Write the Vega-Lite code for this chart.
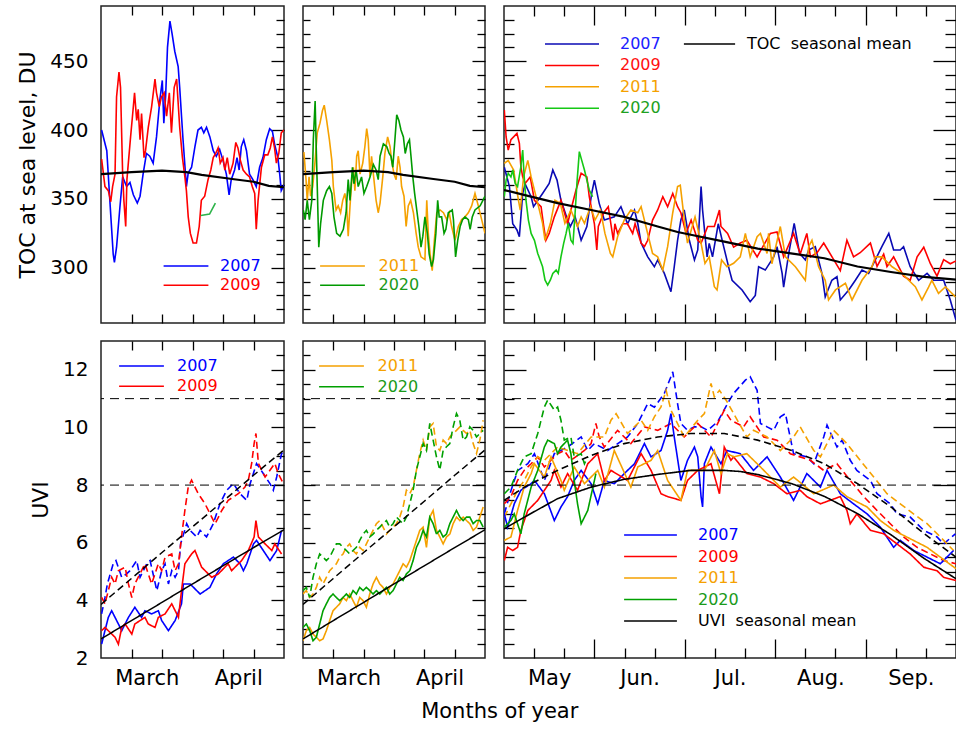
{
"$schema":"https://vega.github.io/schema/vega-lite/v6.json",
"padding":{"left":16,"top":4,"right":0,"bottom":4},
"title":{"text":"Months of year","orient":"bottom","anchor":"middle","dx":13,"offset":12,"fontSize":21,"font":"DejaVu Sans","fontWeight":"normal","color":"#000"},
"config":{
 "view":{"stroke":"#222","strokeWidth":1.5},
 "font":"DejaVu Sans",
 "axis":{"domain":false,"grid":false,"labelFont":"DejaVu Sans","labelFontSize":20,"labelColor":"#000","tickColor":"#000","tickWidth":1.3,"titleFont":"DejaVu Sans","titleFontSize":22,"titleFontWeight":"normal","titleColor":"#000","labelOverlap":false,"labelFlush":false,"labelBound":false},
 "legend":{"orient":"none","title":null,"labelFont":"DejaVu Sans","labelFontSize":16,"symbolStrokeWidth":2,"padding":0,"symbolSize":256,"labelLimit":400},
 "line":{"strokeWidth":1.5}
},
"datasets":{
"tA":[
{"yr":"2007","d":0.2,"v":400},{"yr":"2007","d":1.9,"v":385},{"yr":"2007","d":2.9,"v":349},{"yr":"2007","d":4.0,"v":310},{"yr":"2007","d":4.4,"v":304},{"yr":"2007","d":5.1,"v":315},{"yr":"2007","d":6.2,"v":344},{"yr":"2007","d":7.1,"v":366},{"yr":"2007","d":8.4,"v":359},{"yr":"2007","d":9.5,"v":362},{"yr":"2007","d":10.6,"v":353},{"yr":"2007","d":11.9,"v":347},{"yr":"2007","d":12.8,"v":352},{"yr":"2007","d":13.8,"v":368},{"yr":"2007","d":14.9,"v":383},{"yr":"2007","d":16.0,"v":381},{"yr":"2007","d":17.1,"v":376},{"yr":"2007","d":18.2,"v":395},{"yr":"2007","d":19.3,"v":422},{"yr":"2007","d":20.1,"v":436},{"yr":"2007","d":20.6,"v":405},{"yr":"2007","d":21.2,"v":425},{"yr":"2007","d":21.8,"v":460},{"yr":"2007","d":22.6,"v":479},{"yr":"2007","d":23.3,"v":470},{"yr":"2007","d":24.2,"v":457},{"yr":"2007","d":25.3,"v":446},{"yr":"2007","d":25.8,"v":431},{"yr":"2007","d":26.4,"v":410},{"yr":"2007","d":26.9,"v":393},{"yr":"2007","d":28.0,"v":359},{"yr":"2007","d":28.6,"v":369},{"yr":"2007","d":29.7,"v":373},{"yr":"2007","d":30.8,"v":388},{"yr":"2007","d":31.8,"v":400},{"yr":"2007","d":32.9,"v":402},{"yr":"2007","d":33.7,"v":398},{"yr":"2007","d":34.6,"v":402},{"yr":"2007","d":35.7,"v":395},{"yr":"2007","d":36.8,"v":385},{"yr":"2007","d":37.8,"v":381},{"yr":"2007","d":38.9,"v":386},{"yr":"2007","d":40.0,"v":378},{"yr":"2007","d":41.1,"v":368},{"yr":"2007","d":42.0,"v":353},{"yr":"2007","d":42.7,"v":364},{"yr":"2007","d":43.8,"v":371},{"yr":"2007","d":44.6,"v":380},{"yr":"2007","d":45.3,"v":371},{"yr":"2007","d":46.0,"v":388},{"yr":"2007","d":46.8,"v":393},{"yr":"2007","d":47.7,"v":385},{"yr":"2007","d":48.7,"v":368},{"yr":"2007","d":49.8,"v":364},{"yr":"2007","d":50.9,"v":359},{"yr":"2007","d":52.0,"v":373},{"yr":"2007","d":53.1,"v":380},{"yr":"2007","d":54.2,"v":393},{"yr":"2007","d":55.3,"v":401},{"yr":"2007","d":56.2,"v":399},{"yr":"2007","d":56.9,"v":390},{"yr":"2007","d":58.0,"v":380},{"yr":"2007","d":58.6,"v":368},{"yr":"2007","d":59.1,"v":356},{"yr":"2007","d":60,"v":360},
{"yr":"2009","d":0.2,"v":379},{"yr":"2009","d":1.3,"v":359},{"yr":"2009","d":2.4,"v":356},{"yr":"2009","d":3.2,"v":348},{"yr":"2009","d":3.8,"v":359},{"yr":"2009","d":4.6,"v":368},{"yr":"2009","d":5.1,"v":424},{"yr":"2009","d":5.9,"v":442},{"yr":"2009","d":6.4,"v":431},{"yr":"2009","d":7.1,"v":368},{"yr":"2009","d":7.5,"v":349},{"yr":"2009","d":8.1,"v":330},{"yr":"2009","d":8.5,"v":364},{"yr":"2009","d":9.7,"v":395},{"yr":"2009","d":10.4,"v":412},{"yr":"2009","d":11.0,"v":427},{"yr":"2009","d":11.7,"v":407},{"yr":"2009","d":12.2,"v":415},{"yr":"2009","d":12.8,"v":393},{"yr":"2009","d":13.3,"v":412},{"yr":"2009","d":14.1,"v":380},{"yr":"2009","d":14.6,"v":385},{"yr":"2009","d":15.5,"v":402},{"yr":"2009","d":16.6,"v":417},{"yr":"2009","d":17.7,"v":437},{"yr":"2009","d":18.2,"v":427},{"yr":"2009","d":19.1,"v":417},{"yr":"2009","d":19.8,"v":424},{"yr":"2009","d":20.7,"v":427},{"yr":"2009","d":21.5,"v":410},{"yr":"2009","d":22.4,"v":427},{"yr":"2009","d":23.1,"v":398},{"yr":"2009","d":24.0,"v":431},{"yr":"2009","d":24.8,"v":437},{"yr":"2009","d":25.8,"v":402},{"yr":"2009","d":26.7,"v":380},{"yr":"2009","d":27.5,"v":366},{"yr":"2009","d":28.0,"v":356},{"yr":"2009","d":28.6,"v":337},{"yr":"2009","d":29.3,"v":325},{"yr":"2009","d":30.2,"v":318},{"yr":"2009","d":31.3,"v":318},{"yr":"2009","d":32.2,"v":330},{"yr":"2009","d":32.9,"v":349},{"yr":"2009","d":34.0,"v":352},{"yr":"2009","d":35.1,"v":364},{"yr":"2009","d":36.0,"v":371},{"yr":"2009","d":36.8,"v":380},{"yr":"2009","d":37.6,"v":383},{"yr":"2009","d":38.4,"v":387},{"yr":"2009","d":39.1,"v":376},{"yr":"2009","d":40.0,"v":380},{"yr":"2009","d":40.6,"v":371},{"yr":"2009","d":41.4,"v":380},{"yr":"2009","d":42.2,"v":368},{"yr":"2009","d":43.3,"v":376},{"yr":"2009","d":44.2,"v":391},{"yr":"2009","d":44.9,"v":387},{"yr":"2009","d":45.7,"v":378},{"yr":"2009","d":46.6,"v":371},{"yr":"2009","d":47.7,"v":368},{"yr":"2009","d":48.7,"v":366},{"yr":"2009","d":49.6,"v":359},{"yr":"2009","d":50.4,"v":354},{"yr":"2009","d":50.9,"v":328},{"yr":"2009","d":51.5,"v":349},{"yr":"2009","d":52.6,"v":373},{"yr":"2009","d":53.7,"v":382},{"yr":"2009","d":54.7,"v":382},{"yr":"2009","d":55.5,"v":387},{"yr":"2009","d":56.2,"v":395},{"yr":"2009","d":56.9,"v":387},{"yr":"2009","d":57.5,"v":376},{"yr":"2009","d":58.3,"v":383},{"yr":"2009","d":59.1,"v":398},{"yr":"2009","d":60,"v":400},
{"yr":"2020","d":32.7,"v":338},{"yr":"2020","d":35.6,"v":339},{"yr":"2020","d":37.5,"v":347}
],
"tB":[
{"yr":"2011","d":0.3,"v":384},{"yr":"2011","d":1.0,"v":364},{"yr":"2011","d":1.4,"v":349},{"yr":"2011","d":2.0,"v":366},{"yr":"2011","d":2.5,"v":352},{"yr":"2011","d":3.2,"v":359},{"yr":"2011","d":4.0,"v":378},{"yr":"2011","d":4.7,"v":398},{"yr":"2011","d":5.6,"v":405},{"yr":"2011","d":6.4,"v":414},{"yr":"2011","d":7.0,"v":418},{"yr":"2011","d":7.8,"v":407},{"yr":"2011","d":8.7,"v":393},{"yr":"2011","d":9.5,"v":378},{"yr":"2011","d":10.0,"v":359},{"yr":"2011","d":10.9,"v":342},{"yr":"2011","d":11.6,"v":345},{"yr":"2011","d":12.4,"v":340},{"yr":"2011","d":13.1,"v":349},{"yr":"2011","d":13.8,"v":354},{"yr":"2011","d":14.4,"v":345},{"yr":"2011","d":14.9,"v":323},{"yr":"2011","d":15.5,"v":345},{"yr":"2011","d":16.0,"v":361},{"yr":"2011","d":16.6,"v":373},{"yr":"2011","d":17.1,"v":356},{"yr":"2011","d":17.7,"v":381},{"yr":"2011","d":18.2,"v":385},{"yr":"2011","d":18.8,"v":368},{"yr":"2011","d":19.7,"v":376},{"yr":"2011","d":20.4,"v":388},{"yr":"2011","d":21.0,"v":401},{"yr":"2011","d":21.5,"v":393},{"yr":"2011","d":22.1,"v":366},{"yr":"2011","d":22.6,"v":381},{"yr":"2011","d":23.2,"v":368},{"yr":"2011","d":24.1,"v":349},{"yr":"2011","d":24.8,"v":340},{"yr":"2011","d":25.4,"v":347},{"yr":"2011","d":26.3,"v":366},{"yr":"2011","d":27.0,"v":383},{"yr":"2011","d":27.9,"v":395},{"yr":"2011","d":28.7,"v":388},{"yr":"2011","d":29.2,"v":378},{"yr":"2011","d":30.0,"v":368},{"yr":"2011","d":30.7,"v":364},{"yr":"2011","d":31.4,"v":381},{"yr":"2011","d":32.0,"v":373},{"yr":"2011","d":32.5,"v":359},{"yr":"2011","d":33.3,"v":352},{"yr":"2011","d":34.0,"v":330},{"yr":"2011","d":34.7,"v":345},{"yr":"2011","d":35.5,"v":349},{"yr":"2011","d":36.4,"v":340},{"yr":"2011","d":37.3,"v":325},{"yr":"2011","d":38.0,"v":315},{"yr":"2011","d":38.9,"v":308},{"yr":"2011","d":40.2,"v":306},{"yr":"2011","d":40.8,"v":349},{"yr":"2011","d":41.3,"v":325},{"yr":"2011","d":41.9,"v":310},{"yr":"2011","d":42.6,"v":298},{"yr":"2011","d":43.3,"v":320},{"yr":"2011","d":44.1,"v":340},{"yr":"2011","d":45.2,"v":342},{"yr":"2011","d":46.3,"v":340},{"yr":"2011","d":47.4,"v":335},{"yr":"2011","d":48.2,"v":340},{"yr":"2011","d":49.0,"v":330},{"yr":"2011","d":50.1,"v":320},{"yr":"2011","d":51.2,"v":330},{"yr":"2011","d":52.3,"v":335},{"yr":"2011","d":53.4,"v":337},{"yr":"2011","d":54.5,"v":340},{"yr":"2011","d":55.6,"v":345},{"yr":"2011","d":56.7,"v":354},{"yr":"2011","d":57.8,"v":345},{"yr":"2011","d":58.9,"v":335},{"yr":"2011","d":60,"v":325},
{"yr":"2020","d":0.1,"v":342},{"yr":"2020","d":0.7,"v":335},{"yr":"2020","d":1.4,"v":349},{"yr":"2020","d":2.1,"v":335},{"yr":"2020","d":2.9,"v":349},{"yr":"2020","d":3.4,"v":393},{"yr":"2020","d":4.0,"v":421},{"yr":"2020","d":4.3,"v":393},{"yr":"2020","d":4.7,"v":359},{"yr":"2020","d":5.2,"v":315},{"yr":"2020","d":5.8,"v":332},{"yr":"2020","d":6.7,"v":349},{"yr":"2020","d":7.8,"v":356},{"yr":"2020","d":8.7,"v":359},{"yr":"2020","d":9.5,"v":354},{"yr":"2020","d":10.2,"v":337},{"yr":"2020","d":11.1,"v":325},{"yr":"2020","d":12.2,"v":323},{"yr":"2020","d":13.3,"v":328},{"yr":"2020","d":14.2,"v":340},{"yr":"2020","d":14.9,"v":364},{"yr":"2020","d":15.5,"v":349},{"yr":"2020","d":16.3,"v":373},{"yr":"2020","d":16.8,"v":361},{"yr":"2020","d":17.5,"v":371},{"yr":"2020","d":18.2,"v":359},{"yr":"2020","d":19.3,"v":366},{"yr":"2020","d":20.1,"v":354},{"yr":"2020","d":21.0,"v":359},{"yr":"2020","d":22.1,"v":366},{"yr":"2020","d":23.2,"v":375},{"yr":"2020","d":24.1,"v":371},{"yr":"2020","d":24.8,"v":364},{"yr":"2020","d":25.4,"v":381},{"yr":"2020","d":26.5,"v":390},{"yr":"2020","d":27.6,"v":388},{"yr":"2020","d":28.4,"v":383},{"yr":"2020","d":29.0,"v":381},{"yr":"2020","d":29.6,"v":373},{"yr":"2020","d":30.3,"v":393},{"yr":"2020","d":30.9,"v":411},{"yr":"2020","d":31.6,"v":407},{"yr":"2020","d":32.3,"v":400},{"yr":"2020","d":33.1,"v":395},{"yr":"2020","d":33.7,"v":383},{"yr":"2020","d":34.4,"v":390},{"yr":"2020","d":35.1,"v":393},{"yr":"2020","d":35.6,"v":381},{"yr":"2020","d":36.2,"v":366},{"yr":"2020","d":36.8,"v":354},{"yr":"2020","d":37.5,"v":342},{"yr":"2020","d":38.2,"v":330},{"yr":"2020","d":38.9,"v":315},{"yr":"2020","d":39.5,"v":323},{"yr":"2020","d":40.2,"v":337},{"yr":"2020","d":41.0,"v":325},{"yr":"2020","d":41.6,"v":310},{"yr":"2020","d":42.4,"v":301},{"yr":"2020","d":43.0,"v":306},{"yr":"2020","d":43.8,"v":325},{"yr":"2020","d":44.4,"v":349},{"yr":"2020","d":44.9,"v":337},{"yr":"2020","d":45.7,"v":337},{"yr":"2020","d":46.5,"v":325},{"yr":"2020","d":47.1,"v":328},{"yr":"2020","d":47.9,"v":340},{"yr":"2020","d":49.2,"v":342},{"yr":"2020","d":49.6,"v":335},{"yr":"2020","d":50.3,"v":308},{"yr":"2020","d":51.0,"v":320},{"yr":"2020","d":51.8,"v":330},{"yr":"2020","d":52.6,"v":335},{"yr":"2020","d":53.4,"v":337},{"yr":"2020","d":54.5,"v":335},{"yr":"2020","d":55.1,"v":328},{"yr":"2020","d":55.8,"v":337},{"yr":"2020","d":56.7,"v":342},{"yr":"2020","d":58.4,"v":345},{"yr":"2020","d":60,"v":352}
],
"mT":[{"d":0,"v":368},{"d":10,"v":369.5},{"d":20,"v":370.5},{"d":28,"v":369.5},{"d":33,"v":367.5},{"d":43,"v":364.5},{"d":50,"v":362.5},{"d":55,"v":359.5},{"d":60,"v":358.5}],
"tC":[
{"yr":"2007","d":0.1,"v":373},{"yr":"2007","d":1.8,"v":359},{"yr":"2007","d":2.9,"v":332},{"yr":"2007","d":4.3,"v":327.5},{"yr":"2007","d":5.1,"v":322.6},{"yr":"2007","d":6.2,"v":354},{"yr":"2007","d":7.0,"v":361},{"yr":"2007","d":9.0,"v":351.6},{"yr":"2007","d":9.8,"v":344.4},{"yr":"2007","d":12.8,"v":354},{"yr":"2007","d":15.0,"v":361.3},{"yr":"2007","d":16.2,"v":371},{"yr":"2007","d":17.6,"v":363.7},{"yr":"2007","d":18.9,"v":349},{"yr":"2007","d":20.0,"v":342},{"yr":"2007","d":21.1,"v":334.7},{"yr":"2007","d":22.0,"v":330},{"yr":"2007","d":23.6,"v":337},{"yr":"2007","d":25.6,"v":320},{"yr":"2007","d":27.5,"v":330},{"yr":"2007","d":29.1,"v":354},{"yr":"2007","d":30.0,"v":363.7},{"yr":"2007","d":31.6,"v":346.8},{"yr":"2007","d":33.3,"v":334.7},{"yr":"2007","d":36.6,"v":337},{"yr":"2007","d":38.8,"v":344.4},{"yr":"2007","d":41.0,"v":332},{"yr":"2007","d":43.3,"v":342},{"yr":"2007","d":44.4,"v":332},{"yr":"2007","d":45.5,"v":318},{"yr":"2007","d":47.7,"v":308},{"yr":"2007","d":49.9,"v":300.8},{"yr":"2007","d":51.0,"v":305.7},{"yr":"2007","d":53.2,"v":296},{"yr":"2007","d":55.4,"v":282.7},{"yr":"2007","d":56.5,"v":300.8},{"yr":"2007","d":57.6,"v":320},{"yr":"2007","d":58.7,"v":334.7},{"yr":"2007","d":59.8,"v":342},{"yr":"2007","d":61.5,"v":320},{"yr":"2007","d":63.2,"v":305.7},{"yr":"2007","d":64.3,"v":313},{"yr":"2007","d":65.4,"v":359},{"yr":"2007","d":65.9,"v":342},{"yr":"2007","d":67.4,"v":308},{"yr":"2007","d":68.1,"v":317.8},{"yr":"2007","d":69.2,"v":308},{"yr":"2007","d":71.1,"v":332},{"yr":"2007","d":72.9,"v":315.4},{"yr":"2007","d":74.8,"v":298.4},{"yr":"2007","d":75.7,"v":291},{"yr":"2007","d":79.0,"v":284},{"yr":"2007","d":81.7,"v":275.5},{"yr":"2007","d":83.4,"v":280},{"yr":"2007","d":84.5,"v":300.8},{"yr":"2007","d":86.7,"v":298.4},{"yr":"2007","d":89.5,"v":308},{"yr":"2007","d":90.6,"v":315.4},{"yr":"2007","d":92.3,"v":296},{"yr":"2007","d":92.8,"v":286},{"yr":"2007","d":94.5,"v":310.5},{"yr":"2007","d":96.3,"v":332.3},{"yr":"2007","d":98.1,"v":310.5},{"yr":"2007","d":100.0,"v":305.7},{"yr":"2007","d":101.1,"v":313},{"yr":"2007","d":103.3,"v":315.4},{"yr":"2007","d":105.5,"v":296},{"yr":"2007","d":106.6,"v":279},{"yr":"2007","d":108.8,"v":291},{"yr":"2007","d":110.5,"v":293.6},{"yr":"2007","d":111.6,"v":276.7},{"yr":"2007","d":114.4,"v":284},{"yr":"2007","d":116.6,"v":291},{"yr":"2007","d":118.8,"v":298.4},{"yr":"2007","d":121.0,"v":296},{"yr":"2007","d":123.2,"v":305.7},{"yr":"2007","d":125.4,"v":315.4},{"yr":"2007","d":127.7,"v":325},{"yr":"2007","d":129.3,"v":313},{"yr":"2007","d":131.5,"v":313},{"yr":"2007","d":132.6,"v":315.4},{"yr":"2007","d":134.8,"v":300.8},{"yr":"2007","d":137.6,"v":291},{"yr":"2007","d":140.4,"v":296},{"yr":"2007","d":142.6,"v":291},{"yr":"2007","d":145.9,"v":291},{"yr":"2007","d":148.1,"v":276.7},{"yr":"2007","d":150,"v":262},
{"yr":"2009","d":0.1,"v":414.5},{"yr":"2009","d":0.7,"v":395},{"yr":"2009","d":1.4,"v":385.5},{"yr":"2009","d":2.3,"v":393},{"yr":"2009","d":4.3,"v":397.6},{"yr":"2009","d":5.1,"v":390.4},{"yr":"2009","d":5.6,"v":373.4},{"yr":"2009","d":6.2,"v":366},{"yr":"2009","d":7.0,"v":361.3},{"yr":"2009","d":8.7,"v":366},{"yr":"2009","d":10.1,"v":349},{"yr":"2009","d":12.3,"v":344.4},{"yr":"2009","d":13.2,"v":330},{"yr":"2009","d":13.9,"v":320},{"yr":"2009","d":15.0,"v":325},{"yr":"2009","d":16.7,"v":337},{"yr":"2009","d":18.9,"v":349},{"yr":"2009","d":21.1,"v":332},{"yr":"2009","d":22.2,"v":342},{"yr":"2009","d":23.9,"v":356.5},{"yr":"2009","d":25.6,"v":368.6},{"yr":"2009","d":27.5,"v":366},{"yr":"2009","d":28.3,"v":351.6},{"yr":"2009","d":30.0,"v":332},{"yr":"2009","d":30.8,"v":313},{"yr":"2009","d":31.3,"v":330},{"yr":"2009","d":33.1,"v":340},{"yr":"2009","d":34.6,"v":344.4},{"yr":"2009","d":36.3,"v":320},{"yr":"2009","d":36.8,"v":332},{"yr":"2009","d":37.7,"v":325},{"yr":"2009","d":39.4,"v":332},{"yr":"2009","d":41.0,"v":332},{"yr":"2009","d":42.7,"v":325},{"yr":"2009","d":43.5,"v":332},{"yr":"2009","d":45.5,"v":318},{"yr":"2009","d":46.6,"v":315.4},{"yr":"2009","d":47.7,"v":320},{"yr":"2009","d":49.3,"v":334.7},{"yr":"2009","d":51.0,"v":342},{"yr":"2009","d":52.7,"v":351.6},{"yr":"2009","d":54.3,"v":344.4},{"yr":"2009","d":56.0,"v":354},{"yr":"2009","d":57.6,"v":344.4},{"yr":"2009","d":58.7,"v":340},{"yr":"2009","d":60.4,"v":325},{"yr":"2009","d":62.1,"v":334.7},{"yr":"2009","d":64.3,"v":320},{"yr":"2009","d":65.4,"v":318},{"yr":"2009","d":67.6,"v":330},{"yr":"2009","d":69.8,"v":330},{"yr":"2009","d":71.5,"v":342},{"yr":"2009","d":72.0,"v":330},{"yr":"2009","d":74.2,"v":325},{"yr":"2009","d":76.2,"v":315},{"yr":"2009","d":78.4,"v":318},{"yr":"2009","d":80.6,"v":320},{"yr":"2009","d":84.0,"v":308},{"yr":"2009","d":88.4,"v":325},{"yr":"2009","d":90.6,"v":326},{"yr":"2009","d":92.8,"v":308},{"yr":"2009","d":96.1,"v":325},{"yr":"2009","d":98.3,"v":310},{"yr":"2009","d":100.5,"v":325},{"yr":"2009","d":101.7,"v":308},{"yr":"2009","d":103.9,"v":311},{"yr":"2009","d":106.1,"v":318},{"yr":"2009","d":109.4,"v":306},{"yr":"2009","d":111.6,"v":298},{"yr":"2009","d":113.8,"v":320},{"yr":"2009","d":116.0,"v":308},{"yr":"2009","d":118.2,"v":311},{"yr":"2009","d":121.6,"v":318},{"yr":"2009","d":123.8,"v":301},{"yr":"2009","d":126.0,"v":310},{"yr":"2009","d":127.1,"v":301},{"yr":"2009","d":129.3,"v":308},{"yr":"2009","d":132.6,"v":294},{"yr":"2009","d":134.8,"v":291},{"yr":"2009","d":137.1,"v":308},{"yr":"2009","d":139.3,"v":315},{"yr":"2009","d":141.5,"v":303},{"yr":"2009","d":143.7,"v":294},{"yr":"2009","d":145.9,"v":306},{"yr":"2009","d":148.1,"v":303},{"yr":"2009","d":150,"v":305},
{"yr":"2011","d":0.1,"v":375.8},{"yr":"2011","d":1.4,"v":378},{"yr":"2011","d":3.2,"v":371},{"yr":"2011","d":4.8,"v":349},{"yr":"2011","d":5.4,"v":342},{"yr":"2011","d":6.5,"v":366},{"yr":"2011","d":7.9,"v":378},{"yr":"2011","d":9.0,"v":366},{"yr":"2011","d":11.2,"v":346.8},{"yr":"2011","d":12.8,"v":332.3},{"yr":"2011","d":13.6,"v":320},{"yr":"2011","d":15.4,"v":332.3},{"yr":"2011","d":16.9,"v":349},{"yr":"2011","d":18.7,"v":346.8},{"yr":"2011","d":20.2,"v":332.3},{"yr":"2011","d":22.2,"v":342},{"yr":"2011","d":24.4,"v":330},{"yr":"2011","d":25.6,"v":337},{"yr":"2011","d":26.7,"v":332.3},{"yr":"2011","d":28.7,"v":344.4},{"yr":"2011","d":30.2,"v":334.7},{"yr":"2011","d":32.0,"v":342},{"yr":"2011","d":33.5,"v":325},{"yr":"2011","d":35.3,"v":310.5},{"yr":"2011","d":36.1,"v":308},{"yr":"2011","d":37.7,"v":322.6},{"yr":"2011","d":39.9,"v":334.7},{"yr":"2011","d":42.1,"v":342},{"yr":"2011","d":44.4,"v":340},{"yr":"2011","d":45.5,"v":344.4},{"yr":"2011","d":47.1,"v":330},{"yr":"2011","d":49.3,"v":310.5},{"yr":"2011","d":51.0,"v":308},{"yr":"2011","d":52.7,"v":298.4},{"yr":"2011","d":54.3,"v":315.4},{"yr":"2011","d":56.0,"v":340},{"yr":"2011","d":57.6,"v":359},{"yr":"2011","d":58.5,"v":360},{"yr":"2011","d":60.1,"v":330},{"yr":"2011","d":60.9,"v":318},{"yr":"2011","d":63.4,"v":337},{"yr":"2011","d":65.2,"v":320},{"yr":"2011","d":66.7,"v":303.3},{"yr":"2011","d":68.1,"v":308},{"yr":"2011","d":69.8,"v":286.3},{"yr":"2011","d":70.7,"v":284},{"yr":"2011","d":72.2,"v":305.7},{"yr":"2011","d":74.0,"v":300.8},{"yr":"2011","d":76.2,"v":303.3},{"yr":"2011","d":78.4,"v":308},{"yr":"2011","d":80.1,"v":325},{"yr":"2011","d":81.7,"v":308},{"yr":"2011","d":84.0,"v":322.6},{"yr":"2011","d":85.1,"v":325},{"yr":"2011","d":87.3,"v":310.5},{"yr":"2011","d":87.8,"v":325},{"yr":"2011","d":88.9,"v":303},{"yr":"2011","d":91.7,"v":330},{"yr":"2011","d":93.4,"v":308},{"yr":"2011","d":96.7,"v":300.8},{"yr":"2011","d":100.0,"v":291},{"yr":"2011","d":101.1,"v":315.4},{"yr":"2011","d":102.2,"v":320},{"yr":"2011","d":104.4,"v":300.8},{"yr":"2011","d":106.6,"v":291},{"yr":"2011","d":107.7,"v":276.7},{"yr":"2011","d":110.0,"v":284},{"yr":"2011","d":113.3,"v":288.8},{"yr":"2011","d":115.5,"v":276.7},{"yr":"2011","d":118.8,"v":291},{"yr":"2011","d":122.1,"v":300.8},{"yr":"2011","d":123.2,"v":308},{"yr":"2011","d":125.4,"v":308},{"yr":"2011","d":128.8,"v":300.8},{"yr":"2011","d":132.1,"v":296},{"yr":"2011","d":134.3,"v":291},{"yr":"2011","d":136.5,"v":286.3},{"yr":"2011","d":138.7,"v":276.7},{"yr":"2011","d":140.9,"v":286},{"yr":"2011","d":142.0,"v":291},{"yr":"2011","d":144.2,"v":281.5},{"yr":"2011","d":146.5,"v":286.3},{"yr":"2011","d":149.8,"v":279},
{"yr":"2020","d":0.1,"v":351.6},{"yr":"2020","d":0.7,"v":363.7},{"yr":"2020","d":1.4,"v":368.6},{"yr":"2020","d":2.3,"v":366},{"yr":"2020","d":2.9,"v":371},{"yr":"2020","d":3.7,"v":361.3},{"yr":"2020","d":4.5,"v":359},{"yr":"2020","d":5.6,"v":373.4},{"yr":"2020","d":6.2,"v":385.5},{"yr":"2020","d":6.7,"v":366},{"yr":"2020","d":7.3,"v":349},{"yr":"2020","d":8.1,"v":334.7},{"yr":"2020","d":9.0,"v":325},{"yr":"2020","d":10.1,"v":320},{"yr":"2020","d":11.2,"v":310.5},{"yr":"2020","d":12.8,"v":300.8},{"yr":"2020","d":13.6,"v":291.2},{"yr":"2020","d":14.5,"v":287.5},{"yr":"2020","d":15.4,"v":291.2},{"yr":"2020","d":16.2,"v":296},{"yr":"2020","d":17.3,"v":298.4},{"yr":"2020","d":18.0,"v":296},{"yr":"2020","d":18.9,"v":308},{"yr":"2020","d":19.8,"v":317.8},{"yr":"2020","d":20.6,"v":325},{"yr":"2020","d":21.3,"v":332.3},{"yr":"2020","d":22.2,"v":320},{"yr":"2020","d":22.9,"v":317.8},{"yr":"2020","d":23.6,"v":340},{"yr":"2020","d":24.2,"v":361.3},{"yr":"2020","d":25.0,"v":384.3},{"yr":"2020","d":25.8,"v":378},{"yr":"2020","d":26.7,"v":371},{"yr":"2020","d":27.5,"v":363.7},{"yr":"2020","d":28.3,"v":356.5},{"yr":"2020","d":29.4,"v":351.6}
],
"mTC":[{"yr":"TOC\u00a0 seasonal mean","d":0,"v":356.5},{"yr":"TOC\u00a0 seasonal mean","d":6.6,"v":353},{"yr":"TOC\u00a0 seasonal mean","d":17.8,"v":347},{"yr":"TOC\u00a0 seasonal mean","d":28.9,"v":342},{"yr":"TOC\u00a0 seasonal mean","d":39.9,"v":337},{"yr":"TOC\u00a0 seasonal mean","d":51,"v":330},{"yr":"TOC\u00a0 seasonal mean","d":57.6,"v":326},{"yr":"TOC\u00a0 seasonal mean","d":62,"v":324},{"yr":"TOC\u00a0 seasonal mean","d":73.1,"v":319},{"yr":"TOC\u00a0 seasonal mean","d":84.2,"v":314},{"yr":"TOC\u00a0 seasonal mean","d":95.2,"v":310.5},{"yr":"TOC\u00a0 seasonal mean","d":106.3,"v":307},{"yr":"TOC\u00a0 seasonal mean","d":117.3,"v":301},{"yr":"TOC\u00a0 seasonal mean","d":128.4,"v":297},{"yr":"TOC\u00a0 seasonal mean","d":139.5,"v":293.5},{"yr":"TOC\u00a0 seasonal mean","d":150,"v":291.5}],
"uA":[
{"yr":"2007","s":"clear","d":0.2,"v":3.53},{"yr":"2007","s":"clear","d":1.3,"v":4.1},{"yr":"2007","s":"clear","d":2.1,"v":4.57},{"yr":"2007","s":"clear","d":4.0,"v":5.27},{"yr":"2007","s":"clear","d":4.9,"v":5.38},{"yr":"2007","s":"clear","d":6.8,"v":4.8},{"yr":"2007","s":"clear","d":8.4,"v":4.92},{"yr":"2007","s":"clear","d":9.5,"v":5.03},{"yr":"2007","s":"clear","d":11.7,"v":5.38},{"yr":"2007","s":"clear","d":12.8,"v":4.8},{"yr":"2007","s":"clear","d":15.0,"v":5.27},{"yr":"2007","s":"clear","d":16.1,"v":5.38},{"yr":"2007","s":"clear","d":18.3,"v":4.34},{"yr":"2007","s":"clear","d":19.9,"v":5.03},{"yr":"2007","s":"clear","d":21.0,"v":5.27},{"yr":"2007","s":"clear","d":22.1,"v":4.57},{"yr":"2007","s":"clear","d":23.2,"v":5.03},{"yr":"2007","s":"clear","d":24.3,"v":4.8},{"yr":"2007","s":"clear","d":25.4,"v":5.03},{"yr":"2007","s":"clear","d":26.1,"v":5.96},{"yr":"2007","s":"clear","d":28.1,"v":6.66},{"yr":"2007","s":"clear","d":29.2,"v":6.43},{"yr":"2007","s":"clear","d":31.4,"v":6.2},{"yr":"2007","s":"clear","d":32.5,"v":6.43},{"yr":"2007","s":"clear","d":34.6,"v":6.2},{"yr":"2007","s":"clear","d":36.8,"v":6.66},{"yr":"2007","s":"clear","d":39.0,"v":7.35},{"yr":"2007","s":"clear","d":41.2,"v":7.82},{"yr":"2007","s":"clear","d":43.4,"v":8.05},{"yr":"2007","s":"clear","d":45.6,"v":7.7},{"yr":"2007","s":"clear","d":47.8,"v":7.47},{"yr":"2007","s":"clear","d":48.9,"v":8.05},{"yr":"2007","s":"clear","d":51.0,"v":8.75},{"yr":"2007","s":"clear","d":53.2,"v":8.4},{"yr":"2007","s":"clear","d":55.4,"v":8.05},{"yr":"2007","s":"clear","d":56.5,"v":7.82},{"yr":"2007","s":"clear","d":57.6,"v":8.28},{"yr":"2007","s":"clear","d":59.2,"v":9.1},{"yr":"2007","s":"clear","d":59.8,"v":9.1},
{"yr":"2009","s":"clear","d":0.2,"v":4.1},{"yr":"2009","s":"clear","d":1.3,"v":3.88},{"yr":"2009","s":"clear","d":2.4,"v":4.34},{"yr":"2009","s":"clear","d":3.5,"v":4.8},{"yr":"2009","s":"clear","d":4.6,"v":4.57},{"yr":"2009","s":"clear","d":5.7,"v":5.03},{"yr":"2009","s":"clear","d":7.9,"v":5.15},{"yr":"2009","s":"clear","d":9.0,"v":4.57},{"yr":"2009","s":"clear","d":10.1,"v":4.1},{"yr":"2009","s":"clear","d":11.1,"v":4.57},{"yr":"2009","s":"clear","d":13.3,"v":5.03},{"yr":"2009","s":"clear","d":14.4,"v":5.27},{"yr":"2009","s":"clear","d":16.6,"v":4.57},{"yr":"2009","s":"clear","d":18.8,"v":5.27},{"yr":"2009","s":"clear","d":19.9,"v":5.03},{"yr":"2009","s":"clear","d":21.0,"v":5.5},{"yr":"2009","s":"clear","d":23.2,"v":5.61},{"yr":"2009","s":"clear","d":24.3,"v":5.03},{"yr":"2009","s":"clear","d":25.4,"v":5.27},{"yr":"2009","s":"clear","d":26.4,"v":6.2},{"yr":"2009","s":"clear","d":27.5,"v":7.12},{"yr":"2009","s":"clear","d":28.6,"v":7.93},{"yr":"2009","s":"clear","d":29.7,"v":8.17},{"yr":"2009","s":"clear","d":31.9,"v":7.7},{"yr":"2009","s":"clear","d":34.1,"v":7.35},{"yr":"2009","s":"clear","d":36.3,"v":6.89},{"yr":"2009","s":"clear","d":37.4,"v":6.66},{"yr":"2009","s":"clear","d":39.6,"v":7.12},{"yr":"2009","s":"clear","d":41.7,"v":7.47},{"yr":"2009","s":"clear","d":45.0,"v":7.7},{"yr":"2009","s":"clear","d":47.2,"v":7.93},{"yr":"2009","s":"clear","d":48.3,"v":8.17},{"yr":"2009","s":"clear","d":49.4,"v":8.75},{"yr":"2009","s":"clear","d":50.2,"v":9.44},{"yr":"2009","s":"clear","d":50.8,"v":9.79},{"yr":"2009","s":"clear","d":51.6,"v":8.75},{"yr":"2009","s":"clear","d":53.8,"v":8.28},{"yr":"2009","s":"clear","d":57.0,"v":8.75},{"yr":"2009","s":"clear","d":58.1,"v":8.4},{"yr":"2009","s":"clear","d":59.8,"v":8.05},
{"yr":"2007","s":"all","d":0.2,"v":2.48},{"yr":"2007","s":"all","d":1.3,"v":2.95},{"yr":"2007","s":"all","d":2.4,"v":3.41},{"yr":"2007","s":"all","d":3.5,"v":3.64},{"yr":"2007","s":"all","d":5.7,"v":3.18},{"yr":"2007","s":"all","d":6.8,"v":2.95},{"yr":"2007","s":"all","d":9.0,"v":3.41},{"yr":"2007","s":"all","d":11.1,"v":3.76},{"yr":"2007","s":"all","d":13.3,"v":3.41},{"yr":"2007","s":"all","d":14.4,"v":3.64},{"yr":"2007","s":"all","d":16.6,"v":3.53},{"yr":"2007","s":"all","d":18.8,"v":3.64},{"yr":"2007","s":"all","d":19.9,"v":3.3},{"yr":"2007","s":"all","d":22.1,"v":2.95},{"yr":"2007","s":"all","d":24.3,"v":3.3},{"yr":"2007","s":"all","d":26.4,"v":3.88},{"yr":"2007","s":"all","d":27.0,"v":4.57},{"yr":"2007","s":"all","d":29.2,"v":4.57},{"yr":"2007","s":"all","d":32.5,"v":4.22},{"yr":"2007","s":"all","d":35.7,"v":4.45},{"yr":"2007","s":"all","d":37.9,"v":4.92},{"yr":"2007","s":"all","d":40.1,"v":5.27},{"yr":"2007","s":"all","d":43.4,"v":5.5},{"yr":"2007","s":"all","d":45.6,"v":5.27},{"yr":"2007","s":"all","d":46.7,"v":5.03},{"yr":"2007","s":"all","d":47.8,"v":5.27},{"yr":"2007","s":"all","d":50.0,"v":5.96},{"yr":"2007","s":"all","d":51.0,"v":6.08},{"yr":"2007","s":"all","d":53.2,"v":5.73},{"yr":"2007","s":"all","d":55.4,"v":5.38},{"yr":"2007","s":"all","d":57.6,"v":5.73},{"yr":"2007","s":"all","d":59.2,"v":6.43},
{"yr":"2009","s":"all","d":0.2,"v":2.95},{"yr":"2009","s":"all","d":1.3,"v":3.06},{"yr":"2009","s":"all","d":4.6,"v":2.72},{"yr":"2009","s":"all","d":5.7,"v":2.48},{"yr":"2009","s":"all","d":6.8,"v":3.06},{"yr":"2009","s":"all","d":7.9,"v":3.18},{"yr":"2009","s":"all","d":10.1,"v":2.83},{"yr":"2009","s":"all","d":11.1,"v":3.18},{"yr":"2009","s":"all","d":14.4,"v":3.41},{"yr":"2009","s":"all","d":15.5,"v":3.18},{"yr":"2009","s":"all","d":17.7,"v":3.06},{"yr":"2009","s":"all","d":18.8,"v":3.41},{"yr":"2009","s":"all","d":21.0,"v":3.53},{"yr":"2009","s":"all","d":23.2,"v":3.88},{"yr":"2009","s":"all","d":25.4,"v":3.41},{"yr":"2009","s":"all","d":26.4,"v":4.34},{"yr":"2009","s":"all","d":27.5,"v":5.27},{"yr":"2009","s":"all","d":29.7,"v":5.61},{"yr":"2009","s":"all","d":30.8,"v":5.73},{"yr":"2009","s":"all","d":33.0,"v":5.15},{"yr":"2009","s":"all","d":36.3,"v":4.8},{"yr":"2009","s":"all","d":38.5,"v":4.92},{"yr":"2009","s":"all","d":41.7,"v":5.27},{"yr":"2009","s":"all","d":42.8,"v":5.03},{"yr":"2009","s":"all","d":46.1,"v":5.38},{"yr":"2009","s":"all","d":48.3,"v":5.73},{"yr":"2009","s":"all","d":50.2,"v":6.2},{"yr":"2009","s":"all","d":50.8,"v":6.77},{"yr":"2009","s":"all","d":51.6,"v":6.2},{"yr":"2009","s":"all","d":53.8,"v":5.96},{"yr":"2009","s":"all","d":56.0,"v":5.73},{"yr":"2009","s":"all","d":57.0,"v":5.96},{"yr":"2009","s":"all","d":59.2,"v":5.61}
],
"uB":[
{"yr":"2011","s":"clear","d":0,"v":4.22},{"yr":"2011","s":"clear","d":1.1,"v":4.34},{"yr":"2011","s":"clear","d":2.2,"v":4.1},{"yr":"2011","s":"clear","d":3.3,"v":4.22},{"yr":"2011","s":"clear","d":4.4,"v":4.45},{"yr":"2011","s":"clear","d":5.5,"v":4.8},{"yr":"2011","s":"clear","d":6.6,"v":4.57},{"yr":"2011","s":"clear","d":7.7,"v":4.8},{"yr":"2011","s":"clear","d":8.8,"v":5.03},{"yr":"2011","s":"clear","d":9.9,"v":5.15},{"yr":"2011","s":"clear","d":11,"v":5.27},{"yr":"2011","s":"clear","d":12.1,"v":5.5},{"yr":"2011","s":"clear","d":13.2,"v":5.61},{"yr":"2011","s":"clear","d":14.3,"v":5.84},{"yr":"2011","s":"clear","d":15.4,"v":5.96},{"yr":"2011","s":"clear","d":16.5,"v":5.73},{"yr":"2011","s":"clear","d":17.6,"v":5.61},{"yr":"2011","s":"clear","d":18.7,"v":5.84},{"yr":"2011","s":"clear","d":19.8,"v":5.73},{"yr":"2011","s":"clear","d":20.9,"v":5.96},{"yr":"2011","s":"clear","d":22,"v":6.2},{"yr":"2011","s":"clear","d":23.1,"v":6.43},{"yr":"2011","s":"clear","d":24.2,"v":6.66},{"yr":"2011","s":"clear","d":25.3,"v":6.77},{"yr":"2011","s":"clear","d":26.4,"v":6.54},{"yr":"2011","s":"clear","d":27.5,"v":6.3},{"yr":"2011","s":"clear","d":28.6,"v":6.43},{"yr":"2011","s":"clear","d":29.7,"v":6.54},{"yr":"2011","s":"clear","d":30.8,"v":6.66},{"yr":"2011","s":"clear","d":31.9,"v":6.89},{"yr":"2011","s":"clear","d":33,"v":7.24},{"yr":"2011","s":"clear","d":34.1,"v":7.82},{"yr":"2011","s":"clear","d":35.2,"v":7.7},{"yr":"2011","s":"clear","d":36.3,"v":7.93},{"yr":"2011","s":"clear","d":37.4,"v":8.52},{"yr":"2011","s":"clear","d":38.5,"v":9.1},{"yr":"2011","s":"clear","d":39.6,"v":9.56},{"yr":"2011","s":"clear","d":40.7,"v":9.2},{"yr":"2011","s":"clear","d":41.8,"v":10.02},{"yr":"2011","s":"clear","d":42.9,"v":10.14},{"yr":"2011","s":"clear","d":44,"v":9.33},{"yr":"2011","s":"clear","d":45.1,"v":9.2},{"yr":"2011","s":"clear","d":46.2,"v":9.56},{"yr":"2011","s":"clear","d":47.3,"v":9.44},{"yr":"2011","s":"clear","d":48.4,"v":9.67},{"yr":"2011","s":"clear","d":49.5,"v":9.79},{"yr":"2011","s":"clear","d":50.6,"v":9.9},{"yr":"2011","s":"clear","d":51.7,"v":10.02},{"yr":"2011","s":"clear","d":52.8,"v":9.9},{"yr":"2011","s":"clear","d":53.9,"v":9.79},{"yr":"2011","s":"clear","d":55,"v":9.9},{"yr":"2011","s":"clear","d":56.1,"v":9.44},{"yr":"2011","s":"clear","d":57.2,"v":9.1},{"yr":"2011","s":"clear","d":58.3,"v":9.56},{"yr":"2011","s":"clear","d":59.4,"v":10.25},
{"yr":"2020","s":"clear","d":0,"v":4.34},{"yr":"2020","s":"clear","d":1.1,"v":4.45},{"yr":"2020","s":"clear","d":2.2,"v":4.1},{"yr":"2020","s":"clear","d":3.3,"v":4.8},{"yr":"2020","s":"clear","d":4.4,"v":5.27},{"yr":"2020","s":"clear","d":5.5,"v":5.61},{"yr":"2020","s":"clear","d":6.6,"v":5.5},{"yr":"2020","s":"clear","d":7.7,"v":5.38},{"yr":"2020","s":"clear","d":8.8,"v":5.5},{"yr":"2020","s":"clear","d":9.9,"v":5.73},{"yr":"2020","s":"clear","d":11,"v":5.96},{"yr":"2020","s":"clear","d":12.1,"v":5.96},{"yr":"2020","s":"clear","d":13.2,"v":5.84},{"yr":"2020","s":"clear","d":14.3,"v":5.73},{"yr":"2020","s":"clear","d":15.4,"v":5.61},{"yr":"2020","s":"clear","d":16.5,"v":5.73},{"yr":"2020","s":"clear","d":17.6,"v":5.84},{"yr":"2020","s":"clear","d":18.7,"v":6.08},{"yr":"2020","s":"clear","d":19.8,"v":6.3},{"yr":"2020","s":"clear","d":20.9,"v":6.43},{"yr":"2020","s":"clear","d":22,"v":6.2},{"yr":"2020","s":"clear","d":23.1,"v":6.3},{"yr":"2020","s":"clear","d":24.2,"v":6.43},{"yr":"2020","s":"clear","d":25.3,"v":6.54},{"yr":"2020","s":"clear","d":26.4,"v":6.66},{"yr":"2020","s":"clear","d":27.5,"v":6.77},{"yr":"2020","s":"clear","d":28.6,"v":6.54},{"yr":"2020","s":"clear","d":29.7,"v":6.66},{"yr":"2020","s":"clear","d":30.8,"v":6.89},{"yr":"2020","s":"clear","d":31.9,"v":6.77},{"yr":"2020","s":"clear","d":33,"v":6.66},{"yr":"2020","s":"clear","d":34.1,"v":6.89},{"yr":"2020","s":"clear","d":35.2,"v":7.35},{"yr":"2020","s":"clear","d":36.3,"v":7.82},{"yr":"2020","s":"clear","d":37.4,"v":8.52},{"yr":"2020","s":"clear","d":38.5,"v":8.98},{"yr":"2020","s":"clear","d":39.6,"v":9.44},{"yr":"2020","s":"clear","d":40.7,"v":9.2},{"yr":"2020","s":"clear","d":41.8,"v":10.14},{"yr":"2020","s":"clear","d":42.9,"v":9.56},{"yr":"2020","s":"clear","d":44,"v":8.98},{"yr":"2020","s":"clear","d":45.1,"v":8.52},{"yr":"2020","s":"clear","d":46.2,"v":9.2},{"yr":"2020","s":"clear","d":47.3,"v":9.33},{"yr":"2020","s":"clear","d":48.4,"v":9.44},{"yr":"2020","s":"clear","d":49.5,"v":10.02},{"yr":"2020","s":"clear","d":50.6,"v":10.48},{"yr":"2020","s":"clear","d":51.7,"v":10.25},{"yr":"2020","s":"clear","d":52.8,"v":9.56},{"yr":"2020","s":"clear","d":53.9,"v":9.67},{"yr":"2020","s":"clear","d":55,"v":10.02},{"yr":"2020","s":"clear","d":56.1,"v":9.9},{"yr":"2020","s":"clear","d":57.2,"v":9.67},{"yr":"2020","s":"clear","d":58.3,"v":9.79},{"yr":"2020","s":"clear","d":59.4,"v":9.9},
{"yr":"2011","s":"all","d":0,"v":2.6},{"yr":"2011","s":"all","d":1.1,"v":2.95},{"yr":"2011","s":"all","d":2.2,"v":3.06},{"yr":"2011","s":"all","d":3.3,"v":2.83},{"yr":"2011","s":"all","d":4.4,"v":2.72},{"yr":"2011","s":"all","d":5.5,"v":2.6},{"yr":"2011","s":"all","d":6.6,"v":2.66},{"yr":"2011","s":"all","d":7.7,"v":2.95},{"yr":"2011","s":"all","d":8.8,"v":3.3},{"yr":"2011","s":"all","d":9.9,"v":3.64},{"yr":"2011","s":"all","d":11,"v":3.76},{"yr":"2011","s":"all","d":12.1,"v":3.88},{"yr":"2011","s":"all","d":13.2,"v":4.1},{"yr":"2011","s":"all","d":14.3,"v":3.99},{"yr":"2011","s":"all","d":15.4,"v":4.22},{"yr":"2011","s":"all","d":16.5,"v":3.99},{"yr":"2011","s":"all","d":17.6,"v":3.76},{"yr":"2011","s":"all","d":18.7,"v":4.1},{"yr":"2011","s":"all","d":19.8,"v":3.99},{"yr":"2011","s":"all","d":20.9,"v":3.76},{"yr":"2011","s":"all","d":22,"v":4.22},{"yr":"2011","s":"all","d":23.1,"v":4.57},{"yr":"2011","s":"all","d":24.2,"v":4.8},{"yr":"2011","s":"all","d":25.3,"v":4.57},{"yr":"2011","s":"all","d":26.4,"v":4.45},{"yr":"2011","s":"all","d":27.5,"v":4.22},{"yr":"2011","s":"all","d":28.6,"v":4.45},{"yr":"2011","s":"all","d":29.7,"v":4.57},{"yr":"2011","s":"all","d":30.8,"v":4.8},{"yr":"2011","s":"all","d":31.9,"v":5.03},{"yr":"2011","s":"all","d":33,"v":5.27},{"yr":"2011","s":"all","d":34.1,"v":5.15},{"yr":"2011","s":"all","d":35.2,"v":5.38},{"yr":"2011","s":"all","d":36.3,"v":5.73},{"yr":"2011","s":"all","d":37.4,"v":6.08},{"yr":"2011","s":"all","d":38.5,"v":6.43},{"yr":"2011","s":"all","d":39.6,"v":6.54},{"yr":"2011","s":"all","d":40.7,"v":5.84},{"yr":"2011","s":"all","d":41.8,"v":6.89},{"yr":"2011","s":"all","d":42.9,"v":7.12},{"yr":"2011","s":"all","d":44,"v":6.43},{"yr":"2011","s":"all","d":45.1,"v":6.2},{"yr":"2011","s":"all","d":46.2,"v":5.96},{"yr":"2011","s":"all","d":47.3,"v":6.2},{"yr":"2011","s":"all","d":48.4,"v":6.3},{"yr":"2011","s":"all","d":49.5,"v":6.66},{"yr":"2011","s":"all","d":50.6,"v":6.89},{"yr":"2011","s":"all","d":51.7,"v":6.77},{"yr":"2011","s":"all","d":52.8,"v":6.89},{"yr":"2011","s":"all","d":53.9,"v":6.77},{"yr":"2011","s":"all","d":55,"v":6.66},{"yr":"2011","s":"all","d":56.1,"v":6.43},{"yr":"2011","s":"all","d":57.2,"v":6.54},{"yr":"2011","s":"all","d":58.3,"v":6.89},{"yr":"2011","s":"all","d":59.4,"v":7.24},
{"yr":"2020","s":"all","d":0,"v":3.06},{"yr":"2020","s":"all","d":1.1,"v":3.18},{"yr":"2020","s":"all","d":2.2,"v":2.95},{"yr":"2020","s":"all","d":3.3,"v":2.6},{"yr":"2020","s":"all","d":4.4,"v":2.72},{"yr":"2020","s":"all","d":5.5,"v":3.18},{"yr":"2020","s":"all","d":6.6,"v":3.64},{"yr":"2020","s":"all","d":7.7,"v":3.88},{"yr":"2020","s":"all","d":8.8,"v":4.1},{"yr":"2020","s":"all","d":9.9,"v":4.22},{"yr":"2020","s":"all","d":11,"v":4.1},{"yr":"2020","s":"all","d":12.1,"v":3.99},{"yr":"2020","s":"all","d":13.2,"v":4.1},{"yr":"2020","s":"all","d":14.3,"v":4.22},{"yr":"2020","s":"all","d":15.4,"v":4.1},{"yr":"2020","s":"all","d":16.5,"v":4.34},{"yr":"2020","s":"all","d":17.6,"v":4.22},{"yr":"2020","s":"all","d":18.7,"v":4.45},{"yr":"2020","s":"all","d":19.8,"v":4.34},{"yr":"2020","s":"all","d":20.9,"v":4.45},{"yr":"2020","s":"all","d":22,"v":4.34},{"yr":"2020","s":"all","d":23.1,"v":4.22},{"yr":"2020","s":"all","d":24.2,"v":4.34},{"yr":"2020","s":"all","d":25.3,"v":4.22},{"yr":"2020","s":"all","d":26.4,"v":4.34},{"yr":"2020","s":"all","d":27.5,"v":4.45},{"yr":"2020","s":"all","d":28.6,"v":4.22},{"yr":"2020","s":"all","d":29.7,"v":4.34},{"yr":"2020","s":"all","d":30.8,"v":4.57},{"yr":"2020","s":"all","d":31.9,"v":4.8},{"yr":"2020","s":"all","d":33,"v":4.69},{"yr":"2020","s":"all","d":34.1,"v":4.92},{"yr":"2020","s":"all","d":35.2,"v":5.03},{"yr":"2020","s":"all","d":36.3,"v":5.38},{"yr":"2020","s":"all","d":37.4,"v":5.84},{"yr":"2020","s":"all","d":38.5,"v":6.08},{"yr":"2020","s":"all","d":39.6,"v":6.43},{"yr":"2020","s":"all","d":40.7,"v":6.2},{"yr":"2020","s":"all","d":41.8,"v":6.89},{"yr":"2020","s":"all","d":42.9,"v":6.66},{"yr":"2020","s":"all","d":44,"v":6.3},{"yr":"2020","s":"all","d":45.1,"v":6.43},{"yr":"2020","s":"all","d":46.2,"v":6.2},{"yr":"2020","s":"all","d":47.3,"v":6.3},{"yr":"2020","s":"all","d":48.4,"v":6.66},{"yr":"2020","s":"all","d":49.5,"v":6.89},{"yr":"2020","s":"all","d":50.6,"v":7.12},{"yr":"2020","s":"all","d":51.7,"v":6.89},{"yr":"2020","s":"all","d":52.8,"v":6.77},{"yr":"2020","s":"all","d":53.9,"v":6.89},{"yr":"2020","s":"all","d":55,"v":6.89},{"yr":"2020","s":"all","d":56.1,"v":6.66},{"yr":"2020","s":"all","d":57.2,"v":6.77},{"yr":"2020","s":"all","d":58.3,"v":6.77},{"yr":"2020","s":"all","d":59.4,"v":6.54}
],
"mU":[{"s":"all","d":0,"v":2.66},{"s":"all","d":10,"v":3.3},{"s":"all","d":20,"v":3.93},{"s":"all","d":30,"v":4.57},{"s":"all","d":40,"v":5.2},{"s":"all","d":50,"v":5.83},{"s":"all","d":60,"v":6.45},{"s":"clear","d":0,"v":3.86},{"s":"clear","d":10,"v":4.76},{"s":"clear","d":20,"v":5.66},{"s":"clear","d":30,"v":6.55},{"s":"clear","d":40,"v":7.44},{"s":"clear","d":50,"v":8.34},{"s":"clear","d":60,"v":9.22}],
"uC":[
{"yr":"2007","s":"clear","d":0.1,"v":7.0},{"yr":"2007","s":"clear","d":2.3,"v":7.8},{"yr":"2007","s":"clear","d":4.5,"v":8.5},{"yr":"2007","s":"clear","d":7.9,"v":8.74},{"yr":"2007","s":"clear","d":10.1,"v":9.09},{"yr":"2007","s":"clear","d":13.4,"v":8.16},{"yr":"2007","s":"clear","d":16.7,"v":9.09},{"yr":"2007","s":"clear","d":21.1,"v":9.32},{"yr":"2007","s":"clear","d":25.6,"v":9.67},{"yr":"2007","s":"clear","d":27.8,"v":9.2},{"yr":"2007","s":"clear","d":30.0,"v":9.44},{"yr":"2007","s":"clear","d":34.4,"v":9.2},{"yr":"2007","s":"clear","d":41.0,"v":9.67},{"yr":"2007","s":"clear","d":44.4,"v":10.14},{"yr":"2007","s":"clear","d":47.7,"v":10.83},{"yr":"2007","s":"clear","d":49.9,"v":10.7},{"yr":"2007","s":"clear","d":53.2,"v":11.18},{"yr":"2007","s":"clear","d":55.4,"v":11.76},{"yr":"2007","s":"clear","d":56.0,"v":11.93},{"yr":"2007","s":"clear","d":57.6,"v":10.83},{"yr":"2007","s":"clear","d":58.7,"v":10.14},{"yr":"2007","s":"clear","d":60.9,"v":9.9},{"yr":"2007","s":"clear","d":63.2,"v":10.02},{"yr":"2007","s":"clear","d":65.4,"v":10.02},{"yr":"2007","s":"clear","d":67.6,"v":9.9},{"yr":"2007","s":"clear","d":70.9,"v":10.2},{"yr":"2007","s":"clear","d":74.2,"v":10.83},{"yr":"2007","s":"clear","d":76.2,"v":11.18},{"yr":"2007","s":"clear","d":80.1,"v":11.64},{"yr":"2007","s":"clear","d":81.7,"v":11.76},{"yr":"2007","s":"clear","d":84.0,"v":11.29},{"yr":"2007","s":"clear","d":85.1,"v":10.14},{"yr":"2007","s":"clear","d":87.3,"v":10.02},{"yr":"2007","s":"clear","d":89.5,"v":9.9},{"yr":"2007","s":"clear","d":91.7,"v":10.37},{"yr":"2007","s":"clear","d":93.4,"v":10.48},{"yr":"2007","s":"clear","d":94.5,"v":9.9},{"yr":"2007","s":"clear","d":96.1,"v":9.09},{"yr":"2007","s":"clear","d":100.5,"v":8.98},{"yr":"2007","s":"clear","d":102.8,"v":8.74},{"yr":"2007","s":"clear","d":106.1,"v":9.67},{"yr":"2007","s":"clear","d":107.2,"v":10.08},{"yr":"2007","s":"clear","d":110.5,"v":9.32},{"yr":"2007","s":"clear","d":112.2,"v":9.56},{"yr":"2007","s":"clear","d":114.9,"v":8.86},{"yr":"2007","s":"clear","d":117.1,"v":8.51},{"yr":"2007","s":"clear","d":121.6,"v":8.16},{"yr":"2007","s":"clear","d":123.8,"v":7.7},{"yr":"2007","s":"clear","d":128.2,"v":7.35},{"yr":"2007","s":"clear","d":130.4,"v":7.0},{"yr":"2007","s":"clear","d":134.8,"v":6.89},{"yr":"2007","s":"clear","d":139.3,"v":6.43},{"yr":"2007","s":"clear","d":143.7,"v":6.2},{"yr":"2007","s":"clear","d":145.9,"v":5.96},{"yr":"2007","s":"clear","d":149.8,"v":6.31},
{"yr":"2009","s":"clear","d":0.1,"v":7.35},{"yr":"2009","s":"clear","d":2.3,"v":7.6},{"yr":"2009","s":"clear","d":4.5,"v":8.16},{"yr":"2009","s":"clear","d":6.7,"v":8.51},{"yr":"2009","s":"clear","d":9.0,"v":8.74},{"yr":"2009","s":"clear","d":11.2,"v":8.98},{"yr":"2009","s":"clear","d":13.4,"v":8.63},{"yr":"2009","s":"clear","d":15.6,"v":8.86},{"yr":"2009","s":"clear","d":17.8,"v":9.09},{"yr":"2009","s":"clear","d":20.0,"v":9.2},{"yr":"2009","s":"clear","d":22.2,"v":8.86},{"yr":"2009","s":"clear","d":26.7,"v":9.2},{"yr":"2009","s":"clear","d":28.9,"v":9.44},{"yr":"2009","s":"clear","d":30.5,"v":10.14},{"yr":"2009","s":"clear","d":31.6,"v":9.67},{"yr":"2009","s":"clear","d":33.3,"v":9.32},{"yr":"2009","s":"clear","d":37.7,"v":9.9},{"yr":"2009","s":"clear","d":42.1,"v":9.44},{"yr":"2009","s":"clear","d":46.6,"v":10.02},{"yr":"2009","s":"clear","d":51.0,"v":9.9},{"yr":"2009","s":"clear","d":55.4,"v":10.14},{"yr":"2009","s":"clear","d":59.8,"v":9.67},{"yr":"2009","s":"clear","d":64.3,"v":10.14},{"yr":"2009","s":"clear","d":68.7,"v":9.67},{"yr":"2009","s":"clear","d":73.1,"v":10.6},{"yr":"2009","s":"clear","d":75.3,"v":10.25},{"yr":"2009","s":"clear","d":79.5,"v":10.02},{"yr":"2009","s":"clear","d":81.7,"v":10.37},{"yr":"2009","s":"clear","d":86.2,"v":9.67},{"yr":"2009","s":"clear","d":90.6,"v":9.56},{"yr":"2009","s":"clear","d":95.0,"v":9.09},{"yr":"2009","s":"clear","d":101.7,"v":8.86},{"yr":"2009","s":"clear","d":106.1,"v":8.51},{"yr":"2009","s":"clear","d":110.5,"v":8.74},{"yr":"2009","s":"clear","d":114.9,"v":8.16},{"yr":"2009","s":"clear","d":119.4,"v":7.6},{"yr":"2009","s":"clear","d":123.8,"v":7.12},{"yr":"2009","s":"clear","d":128.2,"v":6.66},{"yr":"2009","s":"clear","d":132.6,"v":6.2},{"yr":"2009","s":"clear","d":137.1,"v":5.84},{"yr":"2009","s":"clear","d":141.5,"v":5.61},{"yr":"2009","s":"clear","d":145.9,"v":5.38},{"yr":"2009","s":"clear","d":150,"v":5.27},
{"yr":"2011","s":"clear","d":0.1,"v":6.89},{"yr":"2011","s":"clear","d":2.3,"v":7.35},{"yr":"2011","s":"clear","d":4.5,"v":7.82},{"yr":"2011","s":"clear","d":6.7,"v":8.16},{"yr":"2011","s":"clear","d":9.0,"v":8.63},{"yr":"2011","s":"clear","d":11.2,"v":8.98},{"yr":"2011","s":"clear","d":13.4,"v":8.86},{"yr":"2011","s":"clear","d":17.8,"v":9.32},{"yr":"2011","s":"clear","d":24.4,"v":9.09},{"yr":"2011","s":"clear","d":28.9,"v":9.67},{"yr":"2011","s":"clear","d":33.3,"v":9.67},{"yr":"2011","s":"clear","d":35.5,"v":10.25},{"yr":"2011","s":"clear","d":37.2,"v":10.48},{"yr":"2011","s":"clear","d":41.0,"v":9.79},{"yr":"2011","s":"clear","d":45.5,"v":10.25},{"yr":"2011","s":"clear","d":47.7,"v":9.9},{"yr":"2011","s":"clear","d":49.9,"v":10.37},{"yr":"2011","s":"clear","d":52.1,"v":10.71},{"yr":"2011","s":"clear","d":53.8,"v":11.29},{"yr":"2011","s":"clear","d":55.4,"v":10.6},{"yr":"2011","s":"clear","d":59.8,"v":9.67},{"yr":"2011","s":"clear","d":64.3,"v":10.25},{"yr":"2011","s":"clear","d":66.5,"v":10.48},{"yr":"2011","s":"clear","d":68.7,"v":11.53},{"yr":"2011","s":"clear","d":69.8,"v":11.06},{"yr":"2011","s":"clear","d":71.5,"v":11.29},{"yr":"2011","s":"clear","d":74.0,"v":10.9},{"yr":"2011","s":"clear","d":76.2,"v":10.48},{"yr":"2011","s":"clear","d":80.6,"v":9.67},{"yr":"2011","s":"clear","d":82.8,"v":9.9},{"yr":"2011","s":"clear","d":87.3,"v":9.67},{"yr":"2011","s":"clear","d":91.7,"v":9.2},{"yr":"2011","s":"clear","d":96.1,"v":9.67},{"yr":"2011","s":"clear","d":98.3,"v":10.02},{"yr":"2011","s":"clear","d":102.8,"v":9.2},{"yr":"2011","s":"clear","d":105.0,"v":8.98},{"yr":"2011","s":"clear","d":109.4,"v":9.9},{"yr":"2011","s":"clear","d":113.8,"v":9.44},{"yr":"2011","s":"clear","d":118.2,"v":8.86},{"yr":"2011","s":"clear","d":122.7,"v":8.28},{"yr":"2011","s":"clear","d":127.1,"v":7.7},{"yr":"2011","s":"clear","d":131.5,"v":7.35},{"yr":"2011","s":"clear","d":135.9,"v":7.0},{"yr":"2011","s":"clear","d":140.4,"v":6.66},{"yr":"2011","s":"clear","d":144.8,"v":6.2},{"yr":"2011","s":"clear","d":149.2,"v":5.73},
{"yr":"2020","s":"clear","d":0.1,"v":7.7},{"yr":"2020","s":"clear","d":2.3,"v":7.93},{"yr":"2020","s":"clear","d":4.5,"v":8.51},{"yr":"2020","s":"clear","d":6.7,"v":8.98},{"yr":"2020","s":"clear","d":9.0,"v":9.09},{"yr":"2020","s":"clear","d":11.2,"v":9.79},{"yr":"2020","s":"clear","d":13.4,"v":10.71},{"yr":"2020","s":"clear","d":14.5,"v":10.95},{"yr":"2020","s":"clear","d":16.7,"v":10.6},{"yr":"2020","s":"clear","d":17.8,"v":10.71},{"yr":"2020","s":"clear","d":18.9,"v":10.25},{"yr":"2020","s":"clear","d":20.0,"v":9.56},{"yr":"2020","s":"clear","d":22.2,"v":9.67},{"yr":"2020","s":"clear","d":23.3,"v":8.98},{"yr":"2020","s":"clear","d":25.6,"v":9.09},{"yr":"2020","s":"clear","d":26.7,"v":8.74},{"yr":"2020","s":"clear","d":27.8,"v":8.98},
{"yr":"2007","s":"all","d":0.1,"v":7.0},{"yr":"2007","s":"all","d":1.2,"v":6.54},{"yr":"2007","s":"all","d":3.4,"v":7.35},{"yr":"2007","s":"all","d":5.6,"v":7.82},{"yr":"2007","s":"all","d":9.0,"v":8.05},{"yr":"2007","s":"all","d":10.1,"v":8.16},{"yr":"2007","s":"all","d":13.4,"v":7.7},{"yr":"2007","s":"all","d":16.7,"v":6.77},{"yr":"2007","s":"all","d":18.9,"v":7.24},{"yr":"2007","s":"all","d":21.1,"v":7.6},{"yr":"2007","s":"all","d":23.3,"v":8.16},{"yr":"2007","s":"all","d":25.6,"v":8.51},{"yr":"2007","s":"all","d":28.9,"v":8.05},{"yr":"2007","s":"all","d":31.1,"v":7.35},{"yr":"2007","s":"all","d":33.3,"v":8.16},{"yr":"2007","s":"all","d":36.6,"v":8.05},{"yr":"2007","s":"all","d":41.0,"v":8.51},{"yr":"2007","s":"all","d":43.3,"v":8.74},{"yr":"2007","s":"all","d":46.6,"v":9.44},{"yr":"2007","s":"all","d":48.8,"v":8.98},{"yr":"2007","s":"all","d":52.1,"v":9.2},{"yr":"2007","s":"all","d":54.3,"v":9.9},{"yr":"2007","s":"all","d":55.4,"v":10.48},{"yr":"2007","s":"all","d":56.5,"v":9.67},{"yr":"2007","s":"all","d":58.7,"v":8.16},{"yr":"2007","s":"all","d":60.9,"v":8.86},{"yr":"2007","s":"all","d":63.2,"v":9.32},{"yr":"2007","s":"all","d":64.3,"v":8.98},{"yr":"2007","s":"all","d":65.4,"v":7.6},{"yr":"2007","s":"all","d":65.9,"v":7.24},{"yr":"2007","s":"all","d":66.5,"v":8.74},{"yr":"2007","s":"all","d":68.7,"v":9.32},{"yr":"2007","s":"all","d":72.0,"v":8.74},{"yr":"2007","s":"all","d":74.0,"v":9.2},{"yr":"2007","s":"all","d":78.4,"v":9.09},{"yr":"2007","s":"all","d":82.8,"v":8.51},{"yr":"2007","s":"all","d":87.3,"v":8.98},{"yr":"2007","s":"all","d":91.7,"v":8.28},{"yr":"2007","s":"all","d":96.1,"v":7.47},{"yr":"2007","s":"all","d":100.5,"v":8.4},{"yr":"2007","s":"all","d":105.0,"v":7.93},{"yr":"2007","s":"all","d":107.2,"v":8.51},{"yr":"2007","s":"all","d":111.6,"v":7.7},{"yr":"2007","s":"all","d":116.0,"v":7.35},{"yr":"2007","s":"all","d":120.5,"v":7.0},{"yr":"2007","s":"all","d":124.9,"v":6.54},{"yr":"2007","s":"all","d":129.3,"v":5.84},{"yr":"2007","s":"all","d":131.5,"v":6.08},{"yr":"2007","s":"all","d":136.0,"v":5.73},{"yr":"2007","s":"all","d":140.4,"v":5.5},{"yr":"2007","s":"all","d":144.8,"v":5.27},{"yr":"2007","s":"all","d":149.2,"v":5.73},
{"yr":"2009","s":"all","d":0.1,"v":5.38},{"yr":"2009","s":"all","d":1.2,"v":5.84},{"yr":"2009","s":"all","d":2.9,"v":5.73},{"yr":"2009","s":"all","d":4.5,"v":5.84},{"yr":"2009","s":"all","d":5.6,"v":6.43},{"yr":"2009","s":"all","d":7.9,"v":7.12},{"yr":"2009","s":"all","d":11.2,"v":7.47},{"yr":"2009","s":"all","d":13.4,"v":7.82},{"yr":"2009","s":"all","d":15.6,"v":8.16},{"yr":"2009","s":"all","d":16.7,"v":8.51},{"yr":"2009","s":"all","d":18.9,"v":7.93},{"yr":"2009","s":"all","d":21.1,"v":8.4},{"yr":"2009","s":"all","d":24.4,"v":7.82},{"yr":"2009","s":"all","d":27.8,"v":8.74},{"yr":"2009","s":"all","d":31.1,"v":9.09},{"yr":"2009","s":"all","d":33.3,"v":8.16},{"yr":"2009","s":"all","d":35.5,"v":8.51},{"yr":"2009","s":"all","d":41.0,"v":8.16},{"yr":"2009","s":"all","d":45.5,"v":9.09},{"yr":"2009","s":"all","d":48.8,"v":8.51},{"yr":"2009","s":"all","d":52.1,"v":7.7},{"yr":"2009","s":"all","d":54.3,"v":7.6},{"yr":"2009","s":"all","d":58.7,"v":7.47},{"yr":"2009","s":"all","d":60.9,"v":8.16},{"yr":"2009","s":"all","d":64.3,"v":8.51},{"yr":"2009","s":"all","d":68.7,"v":8.74},{"yr":"2009","s":"all","d":71.5,"v":7.7},{"yr":"2009","s":"all","d":73.1,"v":9.32},{"yr":"2009","s":"all","d":75.3,"v":8.86},{"yr":"2009","s":"all","d":76.2,"v":8.98},{"yr":"2009","s":"all","d":80.6,"v":8.4},{"yr":"2009","s":"all","d":85.1,"v":8.28},{"yr":"2009","s":"all","d":89.5,"v":8.05},{"yr":"2009","s":"all","d":93.9,"v":7.7},{"yr":"2009","s":"all","d":98.3,"v":7.82},{"yr":"2009","s":"all","d":100.5,"v":7.6},{"yr":"2009","s":"all","d":105.0,"v":7.35},{"yr":"2009","s":"all","d":111.6,"v":7.6},{"yr":"2009","s":"all","d":113.8,"v":7.12},{"yr":"2009","s":"all","d":114.9,"v":6.66},{"yr":"2009","s":"all","d":117.1,"v":7.0},{"yr":"2009","s":"all","d":121.6,"v":6.43},{"yr":"2009","s":"all","d":126.0,"v":6.31},{"yr":"2009","s":"all","d":130.4,"v":5.96},{"yr":"2009","s":"all","d":134.8,"v":5.61},{"yr":"2009","s":"all","d":139.3,"v":5.15},{"yr":"2009","s":"all","d":143.7,"v":5.03},{"yr":"2009","s":"all","d":145.9,"v":4.8},{"yr":"2009","s":"all","d":150,"v":4.69},
{"yr":"2011","s":"all","d":0.1,"v":6.08},{"yr":"2011","s":"all","d":2.3,"v":6.2},{"yr":"2011","s":"all","d":4.5,"v":7.12},{"yr":"2011","s":"all","d":6.7,"v":7.93},{"yr":"2011","s":"all","d":9.0,"v":8.4},{"yr":"2011","s":"all","d":10.1,"v":8.74},{"yr":"2011","s":"all","d":13.4,"v":8.28},{"yr":"2011","s":"all","d":15.6,"v":8.98},{"yr":"2011","s":"all","d":18.9,"v":8.16},{"yr":"2011","s":"all","d":20.0,"v":7.82},{"yr":"2011","s":"all","d":23.3,"v":8.63},{"yr":"2011","s":"all","d":26.7,"v":8.05},{"yr":"2011","s":"all","d":31.1,"v":8.51},{"yr":"2011","s":"all","d":33.3,"v":7.93},{"yr":"2011","s":"all","d":36.6,"v":9.2},{"yr":"2011","s":"all","d":42.1,"v":7.93},{"yr":"2011","s":"all","d":44.4,"v":8.63},{"yr":"2011","s":"all","d":48.8,"v":8.86},{"yr":"2011","s":"all","d":51.0,"v":9.2},{"yr":"2011","s":"all","d":54.3,"v":8.16},{"yr":"2011","s":"all","d":58.7,"v":7.47},{"yr":"2011","s":"all","d":60.9,"v":8.51},{"yr":"2011","s":"all","d":66.5,"v":8.51},{"yr":"2011","s":"all","d":69.8,"v":9.2},{"yr":"2011","s":"all","d":72.0,"v":8.4},{"yr":"2011","s":"all","d":74.2,"v":9.09},{"yr":"2011","s":"all","d":76.2,"v":8.98},{"yr":"2011","s":"all","d":80.6,"v":9.09},{"yr":"2011","s":"all","d":85.1,"v":8.63},{"yr":"2011","s":"all","d":91.7,"v":7.93},{"yr":"2011","s":"all","d":96.1,"v":8.28},{"yr":"2011","s":"all","d":102.8,"v":7.7},{"yr":"2011","s":"all","d":109.4,"v":8.0},{"yr":"2011","s":"all","d":113.8,"v":7.6},{"yr":"2011","s":"all","d":120.5,"v":7.24},{"yr":"2011","s":"all","d":124.9,"v":6.77},{"yr":"2011","s":"all","d":129.3,"v":6.43},{"yr":"2011","s":"all","d":135.9,"v":6.08},{"yr":"2011","s":"all","d":140.4,"v":5.84},{"yr":"2011","s":"all","d":144.8,"v":5.5},{"yr":"2011","s":"all","d":150,"v":5.1},
{"yr":"2020","s":"all","d":0.1,"v":6.54},{"yr":"2020","s":"all","d":2.3,"v":6.77},{"yr":"2020","s":"all","d":3.4,"v":7.0},{"yr":"2020","s":"all","d":5.6,"v":6.31},{"yr":"2020","s":"all","d":6.7,"v":7.0},{"yr":"2020","s":"all","d":9.0,"v":7.93},{"yr":"2020","s":"all","d":11.2,"v":8.51},{"yr":"2020","s":"all","d":13.4,"v":9.32},{"yr":"2020","s":"all","d":14.5,"v":9.56},{"yr":"2020","s":"all","d":16.7,"v":9.44},{"yr":"2020","s":"all","d":17.8,"v":9.09},{"yr":"2020","s":"all","d":18.9,"v":9.32},{"yr":"2020","s":"all","d":21.1,"v":9.56},{"yr":"2020","s":"all","d":22.2,"v":9.09},{"yr":"2020","s":"all","d":23.3,"v":8.16},{"yr":"2020","s":"all","d":24.4,"v":7.35},{"yr":"2020","s":"all","d":25.6,"v":6.66},{"yr":"2020","s":"all","d":27.8,"v":7.12},{"yr":"2020","s":"all","d":30.0,"v":8.16},{"yr":"2020","s":"all","d":30.5,"v":8.4}
],
"mUC":[
{"yr":"UVI\u00a0 seasonal mean","s":"all","d":0,"v":6.48},{"yr":"UVI\u00a0 seasonal mean","s":"all","d":6.8,"v":6.89},{"yr":"UVI\u00a0 seasonal mean","s":"all","d":17.8,"v":7.53},{"yr":"UVI\u00a0 seasonal mean","s":"all","d":28.9,"v":7.93},{"yr":"UVI\u00a0 seasonal mean","s":"all","d":39.9,"v":8.2},{"yr":"UVI\u00a0 seasonal mean","s":"all","d":51,"v":8.37},{"yr":"UVI\u00a0 seasonal mean","s":"all","d":62,"v":8.51},{"yr":"UVI\u00a0 seasonal mean","s":"all","d":73.1,"v":8.51},{"yr":"UVI\u00a0 seasonal mean","s":"all","d":78.6,"v":8.47},{"yr":"UVI\u00a0 seasonal mean","s":"all","d":84.5,"v":8.36},{"yr":"UVI\u00a0 seasonal mean","s":"all","d":95.5,"v":8.05},{"yr":"UVI\u00a0 seasonal mean","s":"all","d":106.5,"v":7.6},{"yr":"UVI\u00a0 seasonal mean","s":"all","d":117.5,"v":7.0},{"yr":"UVI\u00a0 seasonal mean","s":"all","d":128.5,"v":6.27},{"yr":"UVI\u00a0 seasonal mean","s":"all","d":139.5,"v":5.45},{"yr":"UVI\u00a0 seasonal mean","s":"all","d":150,"v":4.75},
{"yr":"UVI\u00a0 seasonal mean","s":"clear","d":0,"v":7.47},{"yr":"UVI\u00a0 seasonal mean","s":"clear","d":6.8,"v":7.93},{"yr":"UVI\u00a0 seasonal mean","s":"clear","d":17.8,"v":8.51},{"yr":"UVI\u00a0 seasonal mean","s":"clear","d":28.9,"v":9.03},{"yr":"UVI\u00a0 seasonal mean","s":"clear","d":39.9,"v":9.44},{"yr":"UVI\u00a0 seasonal mean","s":"clear","d":51,"v":9.67},{"yr":"UVI\u00a0 seasonal mean","s":"clear","d":62,"v":9.79},{"yr":"UVI\u00a0 seasonal mean","s":"clear","d":73.1,"v":9.79},{"yr":"UVI\u00a0 seasonal mean","s":"clear","d":84.2,"v":9.56},{"yr":"UVI\u00a0 seasonal mean","s":"clear","d":95.2,"v":9.21},{"yr":"UVI\u00a0 seasonal mean","s":"clear","d":106.3,"v":8.74},{"yr":"UVI\u00a0 seasonal mean","s":"clear","d":117.3,"v":8.05},{"yr":"UVI\u00a0 seasonal mean","s":"clear","d":128.4,"v":7.24},{"yr":"UVI\u00a0 seasonal mean","s":"clear","d":139.5,"v":6.31},{"yr":"UVI\u00a0 seasonal mean","s":"clear","d":150,"v":5.5}
],
"refs":[{"r":8},{"r":11}]
},
"spacing":15,
"resolve":{"scale":{"color":"independent","strokeDash":"independent"}},
"hconcat":[
{"vconcat":[
 {"width":183,"height":317,
  "resolve":{"axis":{"x":"independent","y":"independent"}},
  "layer":[
   {"data":{"name":"tA"},"mark":{"type":"line","clip":true,"strokeWidth":1.6},
    "encoding":{
     "x":{"field":"d","type":"quantitative","scale":{"domain":[0,60],"nice":false,"zero":false},"axis":{"orient":"bottom","values":[10,20,30,40,50],"labels":false,"tickSize":-9,"title":null}},
     "y":{"field":"v","type":"quantitative","scale":{"domain":[260,490],"nice":false,"zero":false},"axis":{"orient":"left","values":[300,350,400,450],"ticks":false,"labelPadding":13,"title":"TOC at sea level, DU","titlePadding":10}},
     "color":{"field":"yr","type":"nominal","scale":{"domain":["2007","2009","2020"],"range":["#0000ff","#ff0000","#2db34a"]},
      "legend":{"orient":"none","values":["2007","2009"],"legendX":76,"legendY":251,"symbolType":"M-2.8,0H2.8","labelOffset":25,"rowPadding":2.3,
       "labelColor":{"expr":"datum.value === '2007' ? '#0000ff' : datum.value === '2009' ? '#ff0000' : '#000000'"}}}
    }},
   {"data":{"name":"mT"},"mark":{"type":"line","clip":true,"color":"#000","strokeWidth":2.2},
    "encoding":{
     "x":{"field":"d","type":"quantitative","axis":{"orient":"top","values":[10,20,30,40,50],"labels":false,"tickSize":-9,"title":null}},
     "y":{"field":"v","type":"quantitative","axis":{"orient":"right","values":[270,280,290,300,310,320,330,340,350,360,370,380,390,400,410,420,430,440,450,460,470,480],"labels":false,"tickSize":{"condition":{"test":"datum.value % 50 === 0","value":-13},"value":-8},"title":null}}
    }}
  ]},
 {"width":183,"height":317,
  "resolve":{"axis":{"x":"independent","y":"independent"}},
  "layer":[
   {"data":{"name":"uA"},"mark":{"type":"line","clip":true,"strokeWidth":1.6},
    "encoding":{
     "x":{"field":"d","type":"quantitative","scale":{"domain":[0,60],"nice":false,"zero":false},"axis":{"orient":"bottom","values":[10,15,20,30,40,45,50],"labelExpr":"datum.value === 15 ? 'March' : datum.value === 45 ? 'April' : ''","labelFontSize":21,"labelPadding":9,"tickSize":{"condition":{"test":"datum.value === 15 || datum.value === 45","value":0},"value":-9},"title":null}},
     "y":{"field":"v","type":"quantitative","scale":{"domain":[2,13],"nice":false,"zero":false},"axis":{"orient":"left","values":[2,4,6,8,10,12],"ticks":false,"labelPadding":13,"title":"UVI","titlePadding":10}},
     "color":{"field":"yr","type":"nominal","scale":{"domain":["2007","2009"],"range":["#0000ff","#ff0000"]},
      "legend":{"orient":"none","legendX":31.5,"legendY":16,"symbolType":"M-2.8,0H2.8","labelOffset":26.5,"rowPadding":3.3,
       "labelColor":{"expr":"datum.value === '2007' ? '#0000ff' : datum.value === '2009' ? '#ff0000' : '#000000'"}}},
     "strokeDash":{"field":"s","type":"nominal","scale":{"domain":["all","clear"],"range":[[1,0],[7,4]]},"legend":null}
    }},
   {"data":{"name":"mU"},"mark":{"type":"line","clip":true,"color":"#000","strokeWidth":1.5},
    "encoding":{
     "x":{"field":"d","type":"quantitative","axis":{"orient":"top","values":[10,20,30,40,50],"labels":false,"tickSize":-9,"title":null}},
     "y":{"field":"v","type":"quantitative","axis":{"orient":"right","values":[2.5,3,3.5,4,4.5,5,5.5,6,6.5,7,7.5,8,8.5,9,9.5,10,10.5,11,11.5,12,12.5],"labels":false,"tickSize":{"condition":{"test":"datum.value % 2 === 0","value":-13},"value":-8},"title":null}},
     "strokeDash":{"field":"s","type":"nominal","scale":{"domain":["all","clear"],"range":[[1,0],[7,4]]},"legend":null}
    }},
   {"data":{"name":"refs"},"mark":{"type":"rule","color":"#000","strokeWidth":1,"strokeDash":[9,6]},
    "encoding":{"y":{"field":"r","type":"quantitative","axis":null}}}
  ]}
],"spacing":18,"bounds":"flush","resolve":{"scale":{"color":"independent","strokeDash":"independent"}}},
{"vconcat":[
 {"width":182,"height":317,
  "resolve":{"axis":{"x":"independent","y":"independent"}},
  "layer":[
   {"data":{"name":"tB"},"mark":{"type":"line","clip":true,"strokeWidth":1.6},
    "encoding":{
     "x":{"field":"d","type":"quantitative","scale":{"domain":[0,60],"nice":false,"zero":false},"axis":{"orient":"bottom","values":[10,20,30,40,50],"labels":false,"tickSize":-9,"title":null}},
     "y":{"field":"v","type":"quantitative","scale":{"domain":[260,490],"nice":false,"zero":false},"axis":{"orient":"left","values":[270,280,290,300,310,320,330,340,350,360,370,380,390,400,410,420,430,440,450,460,470,480],"labels":false,"tickSize":{"condition":{"test":"datum.value % 50 === 0","value":-12},"value":-7},"title":null}},
     "color":{"field":"yr","type":"nominal","scale":{"domain":["2011","2020"],"range":["#f5a100","#009a00"]},
      "legend":{"orient":"none","legendX":30.5,"legendY":251,"symbolType":"M-2.8,0H2.8","labelOffset":27,"rowPadding":2.3,
       "labelColor":{"expr":"datum.value === '2011' ? '#f5a100' : datum.value === '2020' ? '#1a9a1a' : '#000000'"}}}
    }},
   {"data":{"name":"mT"},"mark":{"type":"line","clip":true,"color":"#000","strokeWidth":2.2},
    "encoding":{
     "x":{"field":"d","type":"quantitative","axis":{"orient":"top","values":[10,20,30,40,50],"labels":false,"tickSize":-9,"title":null}},
     "y":{"field":"v","type":"quantitative","axis":{"orient":"right","values":[270,280,290,300,310,320,330,340,350,360,370,380,390,400,410,420,430,440,450,460,470,480],"labels":false,"tickSize":{"condition":{"test":"datum.value % 50 === 0","value":-13},"value":-8},"title":null}}
    }}
  ]},
 {"width":182,"height":317,
  "resolve":{"axis":{"x":"independent","y":"independent"}},
  "layer":[
   {"data":{"name":"uB"},"mark":{"type":"line","clip":true,"strokeWidth":1.6},
    "encoding":{
     "x":{"field":"d","type":"quantitative","scale":{"domain":[0,60],"nice":false,"zero":false},"axis":{"orient":"bottom","values":[10,15,20,30,40,45,50],"labelExpr":"datum.value === 15 ? 'March' : datum.value === 45 ? 'April' : ''","labelFontSize":21,"labelPadding":9,"tickSize":{"condition":{"test":"datum.value === 15 || datum.value === 45","value":0},"value":-9},"title":null}},
     "y":{"field":"v","type":"quantitative","scale":{"domain":[2,13],"nice":false,"zero":false},"axis":{"orient":"left","values":[2.5,3,3.5,4,4.5,5,5.5,6,6.5,7,7.5,8,8.5,9,9.5,10,10.5,11,11.5,12,12.5],"labels":false,"tickSize":{"condition":{"test":"datum.value % 2 === 0","value":-12},"value":-7},"title":null}},
     "color":{"field":"yr","type":"nominal","scale":{"domain":["2011","2020"],"range":["#f5a100","#00a000"]},
      "legend":{"orient":"none","legendX":29.5,"legendY":16,"symbolType":"M-2.8,0H2.8","labelOffset":27,"rowPadding":3.7,
       "labelColor":{"expr":"datum.value === '2011' ? '#f5a100' : datum.value === '2020' ? '#1a9a1a' : '#000000'"}}},
     "strokeDash":{"field":"s","type":"nominal","scale":{"domain":["all","clear"],"range":[[1,0],[7,4]]},"legend":null}
    }},
   {"data":{"name":"mU"},"mark":{"type":"line","clip":true,"color":"#000","strokeWidth":1.5},
    "encoding":{
     "x":{"field":"d","type":"quantitative","axis":{"orient":"top","values":[10,20,30,40,50],"labels":false,"tickSize":-9,"title":null}},
     "y":{"field":"v","type":"quantitative","axis":{"orient":"right","values":[2.5,3,3.5,4,4.5,5,5.5,6,6.5,7,7.5,8,8.5,9,9.5,10,10.5,11,11.5,12,12.5],"labels":false,"tickSize":{"condition":{"test":"datum.value % 2 === 0","value":-13},"value":-8},"title":null}},
     "strokeDash":{"field":"s","type":"nominal","scale":{"domain":["all","clear"],"range":[[1,0],[7,4]]},"legend":null}
    }},
   {"data":{"name":"refs"},"mark":{"type":"rule","color":"#000","strokeWidth":1,"strokeDash":[9,6]},
    "encoding":{"y":{"field":"r","type":"quantitative","axis":null}}}
  ]}
],"spacing":18,"bounds":"flush","resolve":{"scale":{"color":"independent","strokeDash":"independent"}}},
{"vconcat":[
 {"width":452,"height":317,
  "resolve":{"axis":{"x":"independent","y":"independent"},"scale":{"color":"independent"}},
  "layer":[
   {"data":{"name":"tC"},"mark":{"type":"line","clip":true,"strokeWidth":1.6},
    "encoding":{
     "x":{"field":"d","type":"quantitative","scale":{"domain":[0,150],"nice":false,"zero":false},"axis":{"orient":"bottom","values":[10,20,30,40,50,60,70,80,90,100,110,120,130,140],"labels":false,"tickSize":{"condition":{"test":"datum.value % 30 === 0","value":-19},"value":-10},"title":null}},
     "y":{"field":"v","type":"quantitative","scale":{"domain":[260,490],"nice":false,"zero":false},"axis":{"orient":"left","values":[270,280,290,300,310,320,330,340,350,360,370,380,390,400,410,420,430,440,450,460,470,480],"labels":false,"tickSize":{"condition":{"test":"datum.value % 50 === 0","value":-22},"value":-10},"title":null}},
     "color":{"field":"yr","type":"nominal","scale":{"domain":["2007","2009","2011","2020"],"range":["#0a0ab4","#ff0000","#f5a100","#15c815"]},
      "legend":{"orient":"none","legendX":59,"legendY":29,"symbolType":"M-3.375,0H3.375","labelOffset":39,"rowPadding":4.4,
       "labelColor":{"expr":"datum.value === '2007' ? '#2020ff' : datum.value === '2009' ? '#ff1010' : datum.value === '2011' ? '#f5a100' : datum.value === '2020' ? '#20a020' : '#000000'"}}}
    }},
   {"data":{"name":"mTC"},"mark":{"type":"line","clip":true,"strokeWidth":2.2},
    "encoding":{
     "x":{"field":"d","type":"quantitative","axis":{"orient":"top","values":[10,20,30,40,50,60,70,80,90,100,110,120,130,140],"labels":false,"tickSize":{"condition":{"test":"datum.value % 30 === 0","value":-19},"value":-10},"title":null}},
     "y":{"field":"v","type":"quantitative","axis":{"orient":"right","values":[270,280,290,300,310,320,330,340,350,360,370,380,390,400,410,420,430,440,450,460,470,480],"labels":false,"tickSize":{"condition":{"test":"datum.value % 50 === 0","value":-23},"value":-11},"title":null}},
     "color":{"field":"yr","type":"nominal","scale":{"domain":["TOC\u00a0 seasonal mean"],"range":["#000000"]},
      "legend":{"orient":"none","legendX":196.5,"legendY":29,"symbolType":"M-3.2,0H3.2","labelOffset":28.5,"labelColor":"#000"}}
    }}
  ]},
 {"width":452,"height":317,
  "resolve":{"axis":{"x":"independent","y":"independent"}},
  "layer":[
   {"data":{"name":"uC"},"mark":{"type":"line","clip":true,"strokeWidth":1.6},
    "encoding":{
     "x":{"field":"d","type":"quantitative","scale":{"domain":[0,150],"nice":false,"zero":false},"axis":{"orient":"bottom","values":[10,15,20,30,40,45,50,60,70,75,80,90,100,105,110,120,130,135,140],"labelExpr":"datum.value === 15 ? 'May' : datum.value === 45 ? 'Jun.' : datum.value === 75 ? 'Jul.' : datum.value === 105 ? 'Aug.' : datum.value === 135 ? 'Sep.' : ''","labelFontSize":21,"labelPadding":9,"tickSize":{"condition":[{"test":"datum.value % 30 === 15","value":0},{"test":"datum.value % 30 === 0","value":-19}],"value":-10},"title":null}},
     "y":{"field":"v","type":"quantitative","scale":{"domain":[2,13],"nice":false,"zero":false},"axis":{"orient":"left","values":[2.5,3,3.5,4,4.5,5,5.5,6,6.5,7,7.5,8,8.5,9,9.5,10,10.5,11,11.5,12,12.5],"labels":false,"tickSize":{"condition":{"test":"datum.value % 2 === 0","value":-22},"value":-10},"title":null}},
     "color":{"field":"yr","type":"nominal","scale":{"domain":["2007","2009","2011","2020","UVI\u00a0 seasonal mean"],"range":["#0000ff","#ff0000","#f5a100","#00a000","#000000"]},
      "legend":{"orient":"none","legendX":137.5,"legendY":185,"symbolType":"M-3.3,0H3.3","labelOffset":38.5,"rowPadding":4.5,
       "labelColor":{"expr":"datum.value === '2007' ? '#0000ff' : datum.value === '2009' ? '#ff0000' : datum.value === '2011' ? '#f5a100' : datum.value === '2020' ? '#1a9a1a' : '#000000'"}}},
     "strokeDash":{"field":"s","type":"nominal","scale":{"domain":["all","clear"],"range":[[1,0],[7,4]]},"legend":null}
    }},
   {"data":{"name":"mUC"},"mark":{"type":"line","clip":true,"strokeWidth":1.6},
    "encoding":{
     "x":{"field":"d","type":"quantitative","axis":{"orient":"top","values":[10,20,30,40,50,60,70,80,90,100,110,120,130,140],"labels":false,"tickSize":{"condition":{"test":"datum.value % 30 === 0","value":-19},"value":-10},"title":null}},
     "y":{"field":"v","type":"quantitative","axis":{"orient":"right","values":[2.5,3,3.5,4,4.5,5,5.5,6,6.5,7,7.5,8,8.5,9,9.5,10,10.5,11,11.5,12,12.5],"labels":false,"tickSize":{"condition":{"test":"datum.value % 2 === 0","value":-23},"value":-11},"title":null}},
     "color":{"field":"yr","type":"nominal"},
     "strokeDash":{"field":"s","type":"nominal","scale":{"domain":["all","clear"],"range":[[1,0],[7,4]]},"legend":null}
    }},
   {"data":{"name":"refs"},"mark":{"type":"rule","color":"#000","strokeWidth":1,"strokeDash":[9,6]},
    "encoding":{"y":{"field":"r","type":"quantitative","axis":null}}}
  ]}
],"spacing":18,"bounds":"flush","resolve":{"scale":{"color":"independent","strokeDash":"independent"}}}
]
}
